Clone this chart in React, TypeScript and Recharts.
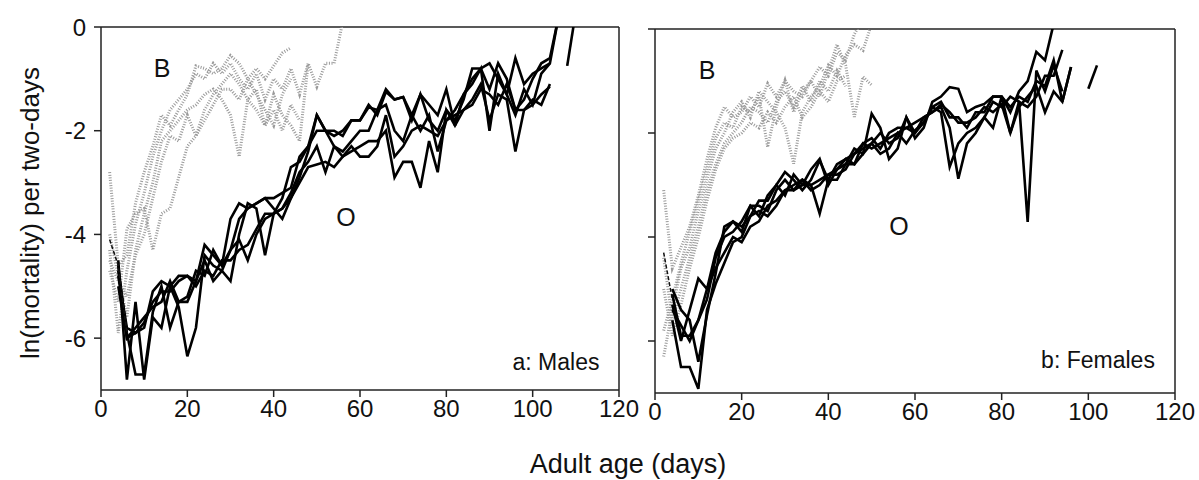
import { LineChart, Line, XAxis, YAxis, ReferenceLine } from "recharts";

// adult age in days, one census every two days
const ages = [
  2, 4, 6, 8, 10, 12, 14, 16, 18, 20, 22, 24, 26, 28, 30, 32, 34, 36, 38, 40,
  42, 44, 46, 48, 50, 52, 54, 56, 58, 60, 62, 64, 66, 68, 70, 72, 74, 76, 78,
  80, 82, 84, 86, 88, 90, 92, 94, 96, 98, 100, 102, 104, 106, 108, 110,
];

const xTicks = [0, 20, 40, 60, 80, 100, 120];
const yTicks = [0, -2, -4, -6];

// ---- a: Males, O populations (solid), each starts at age 4
const maleO1 = [-4.5, -6.8, -5.3, -6.8, -5.6, -5.8, -5.0, -5.4, -6.35, -5.8, -4.4, -4.6, -4.7, -4.9, -4.0, -3.4, -3.5, -4.4, -3.6, -3.3, -2.7, -2.6, -2.3, -1.7, -2.0, -2.1, -2.0, -1.8, -1.8, -1.5, -1.7, -1.25, -1.4, -1.35, -1.8, -1.3, -1.8, -2.0, -1.6, -1.8, -1.4, -0.8, -0.8, -1.2, -0.7, -1.0, -1.6, -1.4, -1.0, -0.7, -0.6, 0.2];
const maleO2 = [-4.7, -5.9, -6.7, -6.7, -5.5, -5.0, -5.8, -5.3, -5.2, -4.7, -4.8, -4.3, -4.6, -4.3, -3.7, -3.5, -3.4, -3.3, -3.3, -3.2, -3.1, -2.5, -2.3, -2.0, -2.0, -2.3, -2.4, -2.2, -2.0, -2.0, -1.6, -1.5, -2.0, -2.2, -1.7, -2.0, -1.7, -2.4, -1.8, -1.6, -1.3, -1.1, -0.8, -2.0, -0.9, -1.3, -1.7, -1.2, -1.5, -0.9, -0.7];
const maleO3 = [-5.0, -6.0, -5.8, -5.6, -5.4, -5.3, -4.9, -5.3, -5.3, -4.9, -4.5, -4.9, -4.7, -4.3, -4.1, -4.5, -4.0, -3.7, -3.6, -3.5, -3.2, -2.8, -2.6, -2.3, -2.8, -2.3, -2.5, -2.4, -2.3, -2.2, -2.2, -2.0, -2.9, -2.6, -2.6, -3.1, -2.2, -2.8, -1.6, -1.9, -1.6, -1.4, -1.1, -1.8, -1.3, -1.4, -2.4, -1.6, -1.4, -1.5, -1.1];
const maleO4 = [-4.8, -5.8, -5.9, -5.7, -5.3, -5.1, -5.1, -4.9, -4.8, -5.0, -4.7, -4.8, -4.5, -4.5, -4.3, -4.2, -3.9, -3.6, -3.6, -3.5, -3.3, -3.0, -2.7, -2.65, -2.6, -2.7, -2.5, -2.3, -2.5, -2.5, -2.3, -1.7, -2.5, -2.3, -2.0, -1.9, -2.0, -2.1, -1.8, -1.7, -1.6, -1.5, -1.2, -1.3, -1.5, -1.1, -1.6, -1.6, -1.5, -1.3, -1.15];
const maleO5 = [-4.6, -6.0, -5.9, -5.8, -5.1, -4.9, -5.0, -4.8, -4.8, -4.9, -4.2, -4.4, -4.6, -3.7, -3.4, -3.5, -3.4, -3.3, -3.5, -3.7, -3.3, -2.9, -2.4, -1.7, -2.0, -2.0, -2.1, -1.8, -1.8, -1.55, -1.6, -1.2, -1.4, -1.35, -1.7, -1.3, -1.5, -1.7, -1.2, -1.9, -1.3, -1.0, -0.8, -0.7, -1.0, -1.3, -0.6, -1.1, -0.9, -0.8, -0.7, 0.2];
// short pieces: late one from age 108, early dashed from age 2
const maleLate = [-0.75, 0.3];
const maleEarly = [-4.1, -4.6, -5.9];

// ---- a: Males, B populations (dotted), each starts at age 2
const maleB1 = [-2.8, -4.6, -4.4, -3.4, -2.8, -2.3, -1.7, -1.9, -1.6, -1.3, -0.75, -0.8, -0.9, -0.8, -0.55, -0.7, -1.0, -0.8, -1.0, -0.75, -0.5, -0.4];
const maleB2 = [-4.3, -5.9, -4.7, -3.8, -3.2, -2.5, -2.0, -1.6, -1.4, -1.2, -0.9, -1.0, -0.7, -0.9, -0.7, -1.0, -1.2, -0.9, -1.4, -1.0, -1.2, -0.8, -1.3, -0.7, -1.15, -0.7, -0.7, 0.1];
const maleB3 = [-4.0, -4.8, -5.6, -4.3, -3.6, -3.0, -2.2, -2.0, -1.8, -1.6, -1.5, -1.3, -1.2, -1.4, -1.7, -2.5, -1.4, -1.6, -1.9, -1.3, -1.7, -1.9, -2.2, -0.7];
const maleB4 = [-4.7, -5.3, -3.9, -3.6, -3.5, -4.3, -3.6, -3.5, -2.9, -2.3, -2.1, -1.8, -1.5, -1.2, -1.2, -1.4, -1.0, -1.3, -1.6, -1.9, -1.3, -1.0];
const maleB5 = [-4.5, -4.9, -5.2, -4.4, -4.0, -3.3, -2.6, -2.1, -2.2, -1.7, -2.1, -1.6, -1.3, -1.1, -0.9, -1.1, -1.4, -1.2, -1.9, -1.6, -2.0, -1.5, -1.8];

// ---- b: Females, O populations (solid), each starts at age 4
const femaleO1 = [-5.6, -6.5, -6.5, -6.92, -5.4, -4.9, -4.5, -4.1, -4.0, -3.6, -3.5, -3.6, -3.4, -3.1, -3.0, -2.9, -3.1, -3.0, -2.8, -2.7, -2.5, -2.6, -2.4, -2.2, -2.4, -2.3, -2.0, -2.2, -1.95, -1.8, -1.5, -1.4, -1.7, -1.7, -1.9, -1.6, -1.6, -1.3, -1.3, -1.5, -1.3, -1.4, -1.0, -1.1, -0.6, -1.4, -0.73];
const femaleO2 = [-5.0, -5.4, -5.6, -6.4, -5.5, -4.7, -3.8, -3.7, -3.9, -3.4, -3.4, -3.5, -3.1, -2.9, -3.1, -3.0, -2.7, -2.5, -3.0, -2.7, -2.6, -2.3, -2.4, -1.63, -1.9, -2.5, -2.3, -1.7, -2.0, -1.8, -1.5, -1.6, -2.65, -2.2, -2.0, -1.9, -1.7, -1.4, -1.5, -1.3, -1.4, -3.71, -0.8, -1.2, -0.7, -1.2];
const femaleO3 = [-5.3, -6.0, -5.4, -4.8, -5.0, -4.3, -3.9, -3.7, -3.8, -3.6, -3.3, -3.3, -3.0, -3.2, -2.8, -3.0, -3.0, -3.55, -2.9, -2.9, -2.6, -2.6, -2.2, -2.3, -2.2, -2.1, -2.0, -1.9, -1.8, -1.7, -1.6, -1.5, -1.9, -2.88, -2.2, -2.0, -1.7, -1.9, -1.3, -2.0, -1.4, -1.5, -1.3, -0.9, -0.9, -0.4];
const femaleO4 = [-5.4, -5.7, -6.0, -5.6, -5.2, -4.4, -4.0, -3.9, -3.7, -3.4, -3.6, -3.2, -3.0, -2.75, -2.9, -3.1, -2.9, -2.53, -2.9, -2.6, -2.5, -2.4, -2.3, -2.2, -2.0, -2.2, -2.1, -1.7, -2.1, -1.9, -1.4, -1.3, -1.12, -1.15, -1.6, -1.5, -1.44, -1.3, -1.3, -1.6, -1.2, -1.0, -0.44, -0.6, 0.1];
const femaleO5 = [-5.1, -5.9, -5.9, -5.6, -5.0, -4.6, -4.3, -4.0, -4.1, -3.8, -3.7, -3.4, -3.3, -3.1, -3.1, -2.9, -3.0, -2.9, -2.8, -2.8, -2.7, -2.4, -2.2, -2.1, -2.3, -2.0, -1.9, -1.9, -2.0, -1.7, -1.6, -1.45, -1.6, -1.8, -1.8, -1.7, -1.5, -1.6, -1.45, -2.0, -1.5, -1.3, -1.1, -1.6, -1.2, -1.4, -0.73];
// short pieces: late one from age 100, early dashed from age 2
const femaleLate = [-1.15, -0.7];
const femaleEarly = [-4.3, -5.2];

// ---- b: Females, B populations (dotted), each starts at age 2
const femaleB1 = [-3.1, -4.6, -4.2, -3.8, -3.2, -2.5, -1.9, -1.5, -1.7, -1.6, -1.3, -1.5, -1.05, -1.3, -1.0, -1.2, -1.3, -1.0, -0.73, -0.9, -0.45, -0.6, -0.1, 0.2];
const femaleB2 = [-5.8, -5.2, -4.5, -3.9, -3.3, -2.7, -2.1, -1.8, -1.9, -1.5, -1.6, -1.3, -2.27, -1.5, -0.99, -1.6, -1.2, -1.0, -1.3, -0.8, -0.3, -0.7, -1.69, -0.92, -1.08];
const femaleB3 = [-6.3, -5.4, -4.6, -4.2, -3.5, -2.9, -2.3, -2.0, -1.6, -1.4, -1.7, -1.2, -1.4, -1.6, -1.9, -2.59, -1.6, -1.3, -1.1, -0.7, -0.9, -0.5, -0.3, -0.41, 0.1];
const femaleB4 = [-4.4, -5.6, -5.0, -4.4, -3.8, -3.1, -2.6, -2.2, -2.0, -1.8, -1.5, -1.6, -1.8, -1.4, -1.2, -1.5, -1.1, -1.4, -1.0, -1.2, -0.8, -1.1];
const femaleB5 = [-5.0, -5.9, -5.3, -4.6, -4.0, -3.3, -2.7, -2.3, -2.1, -2.0, -1.8, -1.9, -1.6, -1.8, -1.5, -1.3, -1.7, -1.5, -1.2, -1.4, -1.0, -0.9];

type Series = { key: string; start: number; values: number[]; kind: "O" | "B" | "early" };

const maleSeries: Series[] = [
  { key: "b1", start: 2, values: maleB1, kind: "B" },
  { key: "b2", start: 2, values: maleB2, kind: "B" },
  { key: "b3", start: 2, values: maleB3, kind: "B" },
  { key: "b4", start: 2, values: maleB4, kind: "B" },
  { key: "b5", start: 2, values: maleB5, kind: "B" },
  { key: "o1", start: 4, values: maleO1, kind: "O" },
  { key: "o2", start: 4, values: maleO2, kind: "O" },
  { key: "o3", start: 4, values: maleO3, kind: "O" },
  { key: "o4", start: 4, values: maleO4, kind: "O" },
  { key: "o5", start: 4, values: maleO5, kind: "O" },
  { key: "late", start: 108, values: maleLate, kind: "O" },
  { key: "early", start: 2, values: maleEarly, kind: "early" },
];

const femaleSeries: Series[] = [
  { key: "b1", start: 2, values: femaleB1, kind: "B" },
  { key: "b2", start: 2, values: femaleB2, kind: "B" },
  { key: "b3", start: 2, values: femaleB3, kind: "B" },
  { key: "b4", start: 2, values: femaleB4, kind: "B" },
  { key: "b5", start: 2, values: femaleB5, kind: "B" },
  { key: "o1", start: 4, values: femaleO1, kind: "O" },
  { key: "o2", start: 4, values: femaleO2, kind: "O" },
  { key: "o3", start: 4, values: femaleO3, kind: "O" },
  { key: "o4", start: 4, values: femaleO4, kind: "O" },
  { key: "o5", start: 4, values: femaleO5, kind: "O" },
  { key: "late", start: 100, values: femaleLate, kind: "O" },
  { key: "early", start: 2, values: femaleEarly, kind: "early" },
];

const buildRows = (series: Series[]) =>
  ages.map((age) => {
    const row: Record<string, number | null> = { age };
    series.forEach((s) => {
      const i = (age - s.start) / 2;
      row[s.key] = i >= 0 && i < s.values.length ? s.values[i] : null;
    });
    return row;
  });

const FONT = "'Liberation Sans', Arial, sans-serif";
const AXIS = "#222";

type PanelProps = {
  series: Series[];
  left: number;
  width: number;
  yWidth: number;
  marginRight: number;
  marginTop: number;
  marginBottom: number;
  showYLabels: boolean;
};

const Panel = ({ series, left, width, yWidth, marginRight, marginTop, marginBottom, showYLabels }: PanelProps) => {
  const rows = buildRows(series);
  return (
    <div style={{ position: "absolute", left, top: 0 }}>
      <LineChart
        width={width}
        height={480}
        data={rows}
        margin={{ top: marginTop, right: marginRight, bottom: marginBottom, left: 0 }}
      >
        <XAxis
          dataKey="age"
          type="number"
          domain={[0, 120]}
          ticks={xTicks}
          height={30}
          stroke={AXIS}
          strokeWidth={1.5}
          tickSize={7}
          tickMargin={3}
          tick={{ fill: "#111", fontSize: 24, fontFamily: FONT }}
        />
        <YAxis
          type="number"
          domain={[-7, 0]}
          ticks={yTicks}
          allowDataOverflow
          width={yWidth}
          stroke={AXIS}
          strokeWidth={1.5}
          tickSize={7}
          tickMargin={8}
          tickFormatter={(v: number) => (showYLabels ? String(v) : "")}
          tick={{ fill: "#111", fontSize: 24, fontFamily: FONT }}
        />
        <ReferenceLine y={0} stroke={AXIS} strokeWidth={1.5} />
        <ReferenceLine x={120} stroke={AXIS} strokeWidth={1.5} />
        {series.map((s) =>
          s.kind === "B" ? (
            <Line
              key={s.key}
              dataKey={s.key}
              stroke="#9a9a9a"
              strokeWidth={3}
              strokeDasharray="1 1.6"
              dot={false}
              isAnimationActive={false}
            />
          ) : s.kind === "early" ? (
            <Line
              key={s.key}
              dataKey={s.key}
              stroke="#111"
              strokeWidth={1.5}
              strokeDasharray="4 2"
              dot={false}
              isAnimationActive={false}
            />
          ) : (
            <Line
              key={s.key}
              dataKey={s.key}
              stroke="#000"
              strokeWidth={2.6}
              strokeLinejoin="miter"
              dot={false}
              isAnimationActive={false}
            />
          )
        )}
      </LineChart>
    </div>
  );
};

const textStyle = { position: "absolute" as const, fontFamily: FONT, color: "#111", whiteSpace: "nowrap" as const };

export default function App() {
  return (
    <div style={{ position: "absolute", left: 0, top: 0, width: 1199, height: 480, background: "#fff" }}>
      <Panel series={maleSeries} left={0} width={640} yWidth={101} marginRight={21} marginTop={27} marginBottom={60} showYLabels />
      <Panel series={femaleSeries} left={600} width={599} yWidth={55} marginRight={24} marginTop={29} marginBottom={57} showYLabels={false} />

      <div style={{ ...textStyle, left: 30, top: 213, fontSize: 26, transform: "translate(-50%, -50%) rotate(-90deg)" }}>
        ln(mortality) per two-days
      </div>
      <div style={{ ...textStyle, left: 628, top: 464, fontSize: 27, transform: "translate(-50%, -50%)" }}>
        Adult age (days)
      </div>

      <div style={{ ...textStyle, left: 162, top: 68, fontSize: 25, transform: "translate(-50%, -50%)" }}>B</div>
      <div style={{ ...textStyle, left: 346, top: 217, fontSize: 25, transform: "translate(-50%, -50%)" }}>O</div>
      <div style={{ ...textStyle, left: 556, top: 362, fontSize: 23, transform: "translate(-50%, -50%)" }}>a: Males</div>

      <div style={{ ...textStyle, left: 707, top: 70, fontSize: 25, transform: "translate(-50%, -50%)" }}>B</div>
      <div style={{ ...textStyle, left: 899, top: 226, fontSize: 25, transform: "translate(-50%, -50%)" }}>O</div>
      <div style={{ ...textStyle, left: 1098, top: 360, fontSize: 23, transform: "translate(-50%, -50%)" }}>b: Females</div>
    </div>
  );
}
